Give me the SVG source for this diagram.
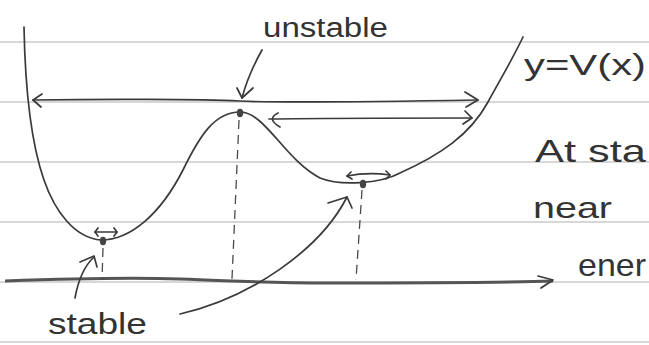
<svg xmlns="http://www.w3.org/2000/svg" width="649" height="345" viewBox="0 0 649 345">
<style>
.rule{stroke:#b0b0b0;stroke-width:1.1;fill:none}
.pen{stroke:#3a3a3a;stroke-width:1.7;fill:none;stroke-linecap:round;stroke-linejoin:round}
.dash{stroke:#4a4a4a;stroke-width:1.3;fill:none;stroke-dasharray:9 6}
.dot{fill:#444}
.txt{font-family:"Liberation Sans",Arial,sans-serif;fill:#333}
</style>
<rect width="649" height="345" fill="#fff"/>
<g id="paper">
<line class="rule" x1="0" y1="42" x2="649" y2="42"/>
<line class="rule" x1="0" y1="102" x2="649" y2="102"/>
<line class="rule" x1="0" y1="162" x2="649" y2="162"/>
<line class="rule" x1="0" y1="222" x2="649" y2="222"/>
<line class="rule" x1="0" y1="282" x2="649" y2="282"/>
<line class="rule" x1="0" y1="342" x2="649" y2="342"/>
</g>
<g id="axis">
<path d="M5,281 C60,279 120,277 180,279 S260,283 330,283 S500,283 553,281" stroke="#555" stroke-width="3" fill="none"/>
<polyline class="pen" points="538,276 553,280 541,288" stroke-width="2.2"/>
</g>
<g id="curve">
<path class="pen" d="M24,27 C25,80 30,140 44,180 C55,212 75,238 101,240 C130,240 160,215 183,170 C200,135 215,112 240,112 C265,112 285,160 320,178 C340,186 380,184 400,173 C440,155 470,135 488,102 C500,80 512,60 523,37"/>
</g>
<g id="drops">
<line class="dash" x1="103" y1="248" x2="102" y2="280"/>
<line class="dash" x1="239" y1="120" x2="232" y2="279"/>
<line class="dash" x1="362" y1="190" x2="356" y2="280"/>
</g>
<g id="points">
<ellipse class="dot" cx="103" cy="241" rx="3.2" ry="4.2"/>
<ellipse class="dot" cx="240" cy="113" rx="3.2" ry="4.2"/>
<ellipse class="dot" cx="363" cy="184" rx="3.2" ry="4.2"/>
</g>
<g id="connectors">
<path class="pen" d="M33,100 C100,99 200,99 240,101 S420,101 478,100"/>
<polyline class="pen" points="42,94 33,100 41,107"/>
<polyline class="pen" points="465,92 478,100 466,107"/>
<path class="pen" d="M269,119 C330,118 420,118 472,118"/>
<path class="pen" d="M278,113 Q266,119 280,127"/>
<polyline class="pen" points="465,111 472,118 463,124"/>
<path class="pen" d="M95,232 L117,232" stroke-width="1.3"/>
<polyline class="pen" points="98,228 95,232 98,236" stroke-width="1.3"/>
<polyline class="pen" points="114,228 117,232 114,236" stroke-width="1.3"/>
<path class="pen" d="M347,176 Q368,172 390,175" stroke-width="1.3"/>
<polyline class="pen" points="351,172 347,176 352,179" stroke-width="1.3"/>
<polyline class="pen" points="386,171 390,175 386,179" stroke-width="1.3"/>
<path class="pen" d="M262,50 Q248,75 242,98"/>
<polyline class="pen" points="237,88 242,98 253,88"/>
<path class="pen" d="M75,298 Q80,270 94,257"/>
<polyline class="pen" points="80,262 94,256 97,267"/>
<path class="pen" d="M180,314 C250,298 320,250 347,197"/>
<polyline class="pen" points="328,203 347,197 352,208"/>
</g>
<g id="labels">
<text class="txt" x="263" y="37" font-size="27" textLength="125" lengthAdjust="spacingAndGlyphs">unstable</text>
<text class="txt" x="48" y="334" font-size="29" textLength="99" lengthAdjust="spacingAndGlyphs">stable</text>
<text class="txt" x="524" y="75" font-size="30" textLength="122" lengthAdjust="spacingAndGlyphs">y=V(x)</text>
<text class="txt" x="535" y="162" font-size="32" textLength="111" lengthAdjust="spacingAndGlyphs">At sta</text>
<text class="txt" x="533" y="218" font-size="29" textLength="79" lengthAdjust="spacingAndGlyphs">near</text>
<text class="txt" x="578" y="276" font-size="32" textLength="68" lengthAdjust="spacingAndGlyphs">ener</text>
</g>
</svg>
